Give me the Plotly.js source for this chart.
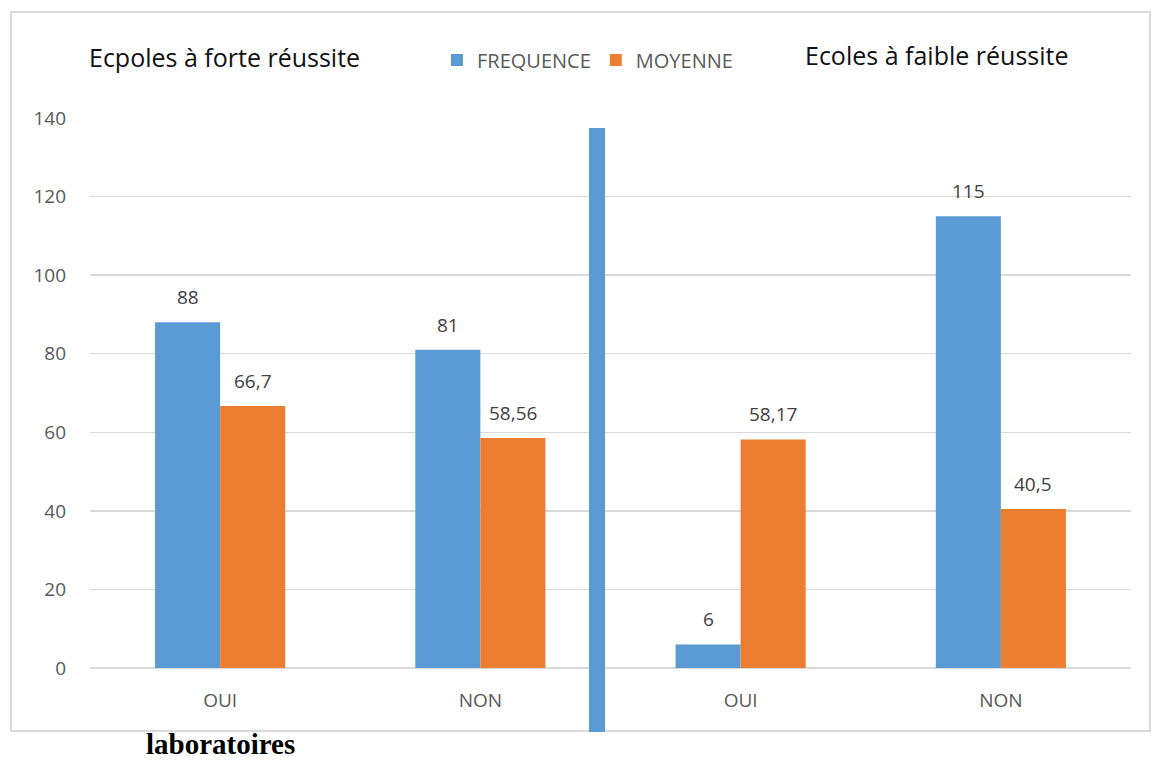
<!DOCTYPE html>
<html>
<head>
<meta charset="utf-8">
<script src="https://cdn.plot.ly/plotly-3.0.1.min.js"></script>
<style>html,body{margin:0;padding:0;background:#fff;}#chart{width:1154px;height:762px;}</style>
</head>
<body>
<div id="chart"></div>
<script>
const categories = ["OUI", "NON", "OUI", "NON"];
const frequence = [88, 81, 6, 115];
const moyenne = [66.7, 58.56, 58.17, 40.5];
const seriesNames = ["FREQUENCE", "MOYENNE"];
const groupTitles = ["Ecpoles à forte réussite", "Ecoles à faible réussite"];
const caption = "laboratoires";
const yTicks = [0, 20, 40, 60, 80, 100, 120, 140];

const BLUE = "#5B9BD5", ORANGE = "#ED7D31";
const idx = categories.map((_, i) => i);
const fmt = v => String(v).replace(".", ",");
const FONT = "Open Sans, sans-serif";

const traces = [
  {type: "bar", name: seriesNames[0], x: idx, y: frequence, marker: {color: BLUE}, hoverinfo: "none"},
  {type: "bar", name: seriesNames[1], x: idx, y: moyenne, marker: {color: ORANGE}, hoverinfo: "none"}
];

const annotations = [];
const off = 0.125;
[[frequence, -off], [moyenne, off]].forEach(([arr, dx]) => {
  arr.forEach((v, i) => {
    annotations.push({x: i + dx, y: v, xref: "x", yref: "y", text: fmt(v), showarrow: false,
      yanchor: "middle", yshift: 25, font: {family: FONT, size: 19, color: "#404040"}});
  });
});
annotations.push({x: (87-90)/1041, y: (668-57)/550, xref: "paper", yref: "paper", xanchor: "left", yanchor: "middle",
  text: groupTitles[0], showarrow: false, font: {family: FONT, size: 25, color: "#111"}});
annotations.push({x: (803-90)/1041, y: (668-55)/550, xref: "paper", yref: "paper", xanchor: "left", yanchor: "middle",
  text: groupTitles[1], showarrow: false, font: {family: FONT, size: 25, color: "#111"}});
annotations.push({x: (145-90)/1041, y: (668-744)/550, xref: "paper", yref: "paper", xanchor: "left", yanchor: "middle",
  text: "<b>" + caption + "</b>", showarrow: false, borderpad: 0,
  font: {family: "Liberation Serif, serif", size: 29, color: "#000"}});

const layout = {
  width: 1154, height: 762,
  margin: {l: 90, r: 23, t: 118, b: 94},
  paper_bgcolor: "#fff", plot_bgcolor: "#fff",
  barmode: "group", bargap: 0.5, bargroupgap: 0,
  showlegend: true,
  legend: {orientation: "h", x: (437-90)/1041, y: (668-60)/550, xanchor: "left", yanchor: "middle",
    font: {family: FONT, size: 20, color: "#595959"}, itemclick: false, itemdoubleclick: false},
  xaxis: {range: [-0.5, 3.5], tickvals: idx, ticktext: categories, showgrid: false, zeroline: false,
    showline: false, ticks: "", ticklabelstandoff: 19,
    tickfont: {family: FONT, size: 19, color: "#595959"}},
  yaxis: {range: [0, 140], tickvals: yTicks, showgrid: true, gridcolor: "#d9d9d9", gridwidth: 1.5,
    zeroline: true, zerolinecolor: "#d9d9d9", zerolinewidth: 1.5, showline: false, ticks: "",
    ticklabelstandoff: 23, tickfont: {family: FONT, size: 19, color: "#595959"}},
  annotations: annotations,
  shapes: [
    {type: "rect", xref: "paper", yref: "paper", x0: (11-90)/1041, x1: (1150-90)/1041, y0: (668-731)/550, y1: (668-12)/550,
      line: {color: "#d9d9d9", width: 2}, fillcolor: "rgba(0,0,0,0)", layer: "below"},
    {type: "rect", xref: "paper", yref: "paper", x0: (589-90)/1041, x1: (605-90)/1041, y0: (668-732)/550, y1: (668-128)/550,
      line: {width: 0}, fillcolor: BLUE, layer: "above"}
  ]
};

Plotly.newPlot("chart", traces, layout, {staticPlot: true, displayModeBar: false});
</script>
</body>
</html>
